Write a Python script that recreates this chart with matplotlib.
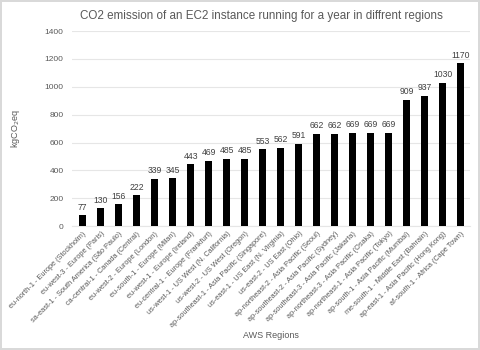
import numpy as np
import matplotlib.pyplot as plt

plt.rcParams['font.family'] = ['Liberation Sans', 'DejaVu Sans']

regions = [
    'eu-north-1 - Europe (Stockholm)', 'eu-west-3 - Europe (Paris)',
    'sa-east-1 - South America (São Paulo)', 'ca-central-1 - Canada (Central)',
    'eu-west-2 - Europe (London)', 'eu-south-1 - Europe (Milan)',
    'eu-west-1 - Europe (Ireland)', 'eu-central-1 - Europe (Frankfurt)',
    'us-west-1 - US West (N. California)', 'us-west-2 - US West (Oregon)',
    'ap-southeast-1 - Asia Pacific (Singapore)', 'us-east-1 - US East (N. Virginia)',
    'us-east-2 - US East (Ohio)', 'ap-northeast-2 - Asia Pacific (Seoul)',
    'ap-southeast-2 - Asia Pacific (Sydney)', 'ap-southeast-3 - Asia Pacific (Jakarta)',
    'ap-northeast-3 - Asia Pacific (Osaka)', 'ap-northeast-1 - Asia Pacific (Tokyo)',
    'ap-south-1 - Asia Pacific (Mumbai)', 'me-south-1 - Middle East (Bahrain)',
    'ap-east-1 - Asia Pacific (Hong Kong)', 'af-south-1 - Africa (Cape Town)',
]
emissions = [77, 130, 156, 222, 339, 345, 443, 469, 485, 485, 553, 562,
             591, 662, 662, 669, 669, 669, 909, 937, 1030, 1170]

grey = '#595959'

fig = plt.figure(figsize=(4.8, 3.5), dpi=100)
fig.patch.set_edgecolor('#d9d9d9')
fig.patch.set_linewidth(1.5)
ax = fig.add_axes([0.15, 0.354, 0.829, 0.557])

x = np.arange(len(regions))
bars = ax.bar(x, emissions, width=0.38, color='black', zorder=3)
for xi, v in zip(x, emissions):
    ax.text(xi, v + 25, str(v), ha='center', va='bottom', fontsize=6.2, color='#404040')

ax.set_ylim(0, 1400)
ax.set_yticks(range(0, 1401, 200))
ax.set_xlim(-0.6, len(regions) - 0.5)
ax.yaxis.grid(True, color='#e6e6e6', linewidth=0.8, zorder=0)
for s in ax.spines.values():
    s.set_visible(False)
ax.spines['bottom'].set_visible(True)
ax.spines['bottom'].set_color('#e6e6e6')
ax.tick_params(axis='both', length=0, labelsize=6, colors=grey, pad=6)
ax.set_xticks(x)
ax.set_xticklabels(regions, rotation=45, ha='right', rotation_mode='anchor', fontsize=5.3)
ax.tick_params(axis='x', pad=3)

ax.set_ylabel('kgCO$_2$eq', fontsize=6.5, color=grey, labelpad=16)
ax.set_xlabel('AWS Regions', fontsize=6.5, color=grey, labelpad=1)
fig.text(0.545, 0.955, 'CO2 emission of an EC2 instance running for a year in diffrent regions',
         ha='center', va='center', fontsize=8.4, color=grey)

fig.savefig('out.png', dpi=100, edgecolor=fig.get_edgecolor())
